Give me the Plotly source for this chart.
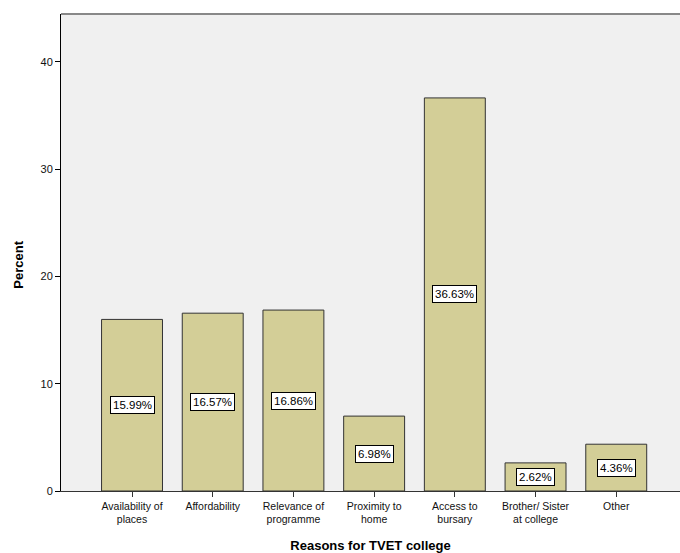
import plotly.graph_objects as go

categories = ["Availability of<br>places", "Affordability", "Relevance of<br>programme",
              "Proximity to<br>home", "Access to<br>bursary", "Brother/ Sister<br>at college", "Other"]
percent = [15.99, 16.57, 16.86, 6.98, 36.63, 2.62, 4.36]
y_ticks = [0, 10, 20, 30, 40]

x_pos = list(range(len(categories)))

fig = go.Figure()
fig.add_trace(go.Bar(
    x=x_pos, y=percent, width=0.755,
    marker=dict(color="#D3CE97", line=dict(color="#333333", width=1)),
    hoverinfo="skip",
))

# value labels in white boxes at half the bar height
for xi, v in zip(x_pos, percent):
    fig.add_annotation(
        x=xi, y=v / 2, text=f"{v:.2f}%", showarrow=False,
        font=dict(family="Arial, Liberation Sans", size=11.5, color="#000000"),
        bgcolor="#FFFFFF", bordercolor="#000000", borderwidth=1, borderpad=2,
    )

# rotated y-axis title
fig.add_annotation(
    x=-0.07, y=(553 - 265 - 62) / (553 - 14 - 62), xref="paper", yref="paper",
    xanchor="center", yanchor="middle", text="<b>Percent</b>", showarrow=False,
    textangle=-90, font=dict(family="Arial, Liberation Sans", size=13, color="#000000"),
)

fig.update_layout(
    width=680, height=553,
    margin=dict(l=61, r=0, t=14, b=62),
    paper_bgcolor="#FFFFFF", plot_bgcolor="#F0F0F0",
    showlegend=False,
    font=dict(family="Arial, Liberation Sans", size=11, color="#111111"),
    xaxis=dict(
        range=[-0.88, 6.79], tickmode="array", tickvals=x_pos, ticktext=categories,
        ticks="outside", ticklen=5, tickcolor="#333333", showgrid=False, zeroline=False,
        showline=True, linecolor="#333333", linewidth=1,
        tickfont=dict(size=10.5, color="#111111"),
        title=dict(text="<b>Reasons for TVET college</b>", standoff=16,
                   font=dict(size=13, color="#000000")),
    ),
    yaxis=dict(
        range=[0, 44.45], tickmode="array", tickvals=y_ticks,
        ticks="outside", ticklen=5, tickcolor="#000000", showgrid=False, zeroline=False,
        showline=True, linecolor="#000000", linewidth=1,
        tickfont=dict(size=11, color="#111111"),
    ),
    shapes=[dict(type="line", xref="paper", yref="paper", x0=0, x1=1, y0=1, y1=1,
                 line=dict(color="#888888", width=2))],
)

fig.write_html("out.html")
